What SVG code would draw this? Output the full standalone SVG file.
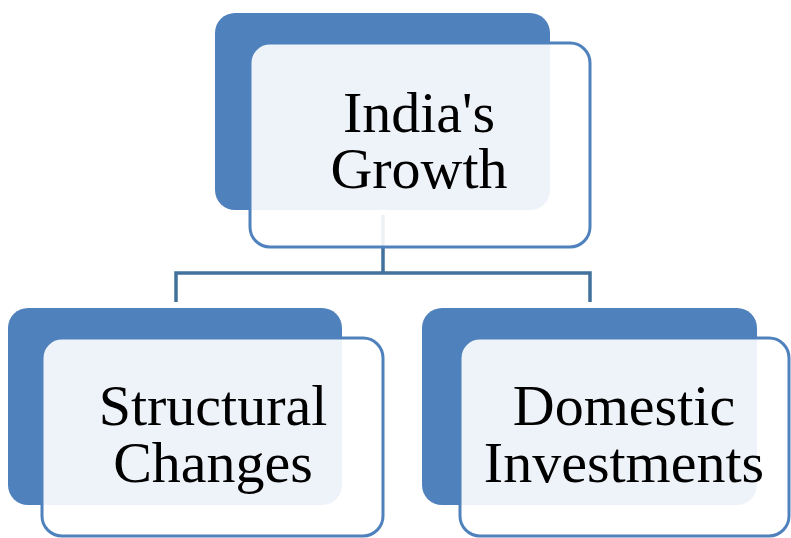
<svg xmlns="http://www.w3.org/2000/svg" width="791" height="538" viewBox="0 0 791 538">
<style>
.back{fill:#4F81BD;}
.front{fill:#FFFFFF;fill-opacity:0.9;stroke:#4F81BD;stroke-width:3;}
.lbl{font-family:"Liberation Serif","Times New Roman",serif;font-size:58px;fill:#000;text-anchor:middle;}
.conn{fill:none;stroke:#41719C;stroke-width:3.5;}
</style>
<g id="connectors">
<path class="conn" d="M383 215 V273 M176 302 V273 H590 V302"/>
</g>
<g id="node-india">
<rect class="back" x="215" y="13" width="335" height="197" rx="20"/>
<rect class="front" x="250" y="43" width="340" height="204" rx="20"/>
<text class="lbl" x="419" y="132">India's</text>
<text class="lbl" x="419" y="188">Growth</text>
</g>
<g id="node-structural">
<rect class="back" x="8" y="308" width="334" height="197" rx="20"/>
<rect class="front" x="42" y="338" width="341" height="198" rx="20"/>
<text class="lbl" x="213" y="425">Structural</text>
<text class="lbl" x="213" y="482">Changes</text>
</g>
<g id="node-domestic">
<rect class="back" x="422" y="308" width="335" height="197" rx="20"/>
<rect class="front" x="460" y="338" width="329" height="198" rx="20"/>
<text class="lbl" x="624" y="425">Domestic</text>
<text class="lbl" x="624" y="482">Investments</text>
</g>
</svg>
